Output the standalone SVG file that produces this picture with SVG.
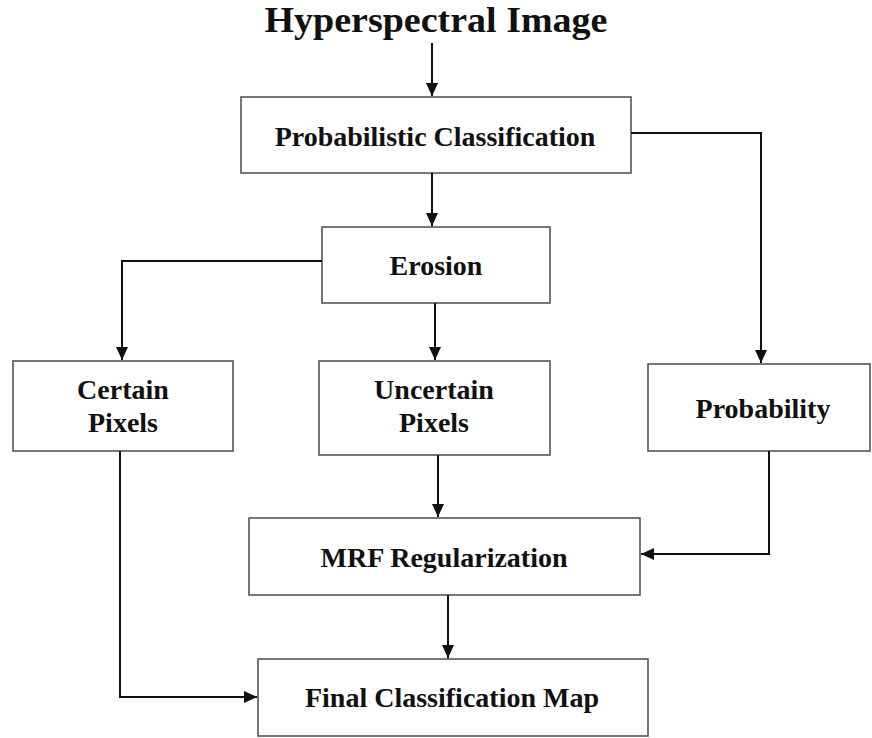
<svg xmlns="http://www.w3.org/2000/svg" width="872" height="738" viewBox="0 0 872 738">
<style>
.box{fill:#fff;stroke:#555;stroke-width:1.6}
.lbl{font-family:"Liberation Serif","Times New Roman",serif;font-weight:bold;font-size:28px;fill:#111;text-anchor:middle}
.title{font-family:"Liberation Serif","Times New Roman",serif;font-weight:bold;font-size:36px;fill:#111;text-anchor:middle}
.con{fill:none;stroke:#111;stroke-width:2}
</style>
<defs>
<marker id="ah" markerUnits="userSpaceOnUse" markerWidth="14" markerHeight="12" refX="13" refY="6" orient="auto">
<path d="M0,0 L13,6 L0,12 Z" fill="#111"/>
</marker>
</defs>
<rect width="872" height="738" fill="#fff"/>
<g id="title"><text class="title" x="436" y="32" textLength="343" lengthAdjust="spacingAndGlyphs">Hyperspectral Image</text></g>
<g id="n-prob-class"><rect class="box" x="241" y="97" width="390" height="76"/><text class="lbl" x="435" y="146">Probabilistic Classification</text></g>
<g id="n-erosion"><rect class="box" x="322" y="227" width="228" height="76"/><text class="lbl" x="436" y="275">Erosion</text></g>
<g id="n-certain"><rect class="box" x="13" y="361" width="220" height="90"/><text class="lbl" x="123" y="399">Certain</text><text class="lbl" x="123" y="432">Pixels</text></g>
<g id="n-uncertain"><rect class="box" x="319" y="361" width="231" height="94"/><text class="lbl" x="434" y="399">Uncertain</text><text class="lbl" x="434" y="432">Pixels</text></g>
<g id="n-probability"><rect class="box" x="648" y="364" width="222" height="87"/><text class="lbl" x="763" y="418">Probability</text></g>
<g id="n-mrf"><rect class="box" x="249" y="518" width="391" height="77"/><text class="lbl" x="444" y="567">MRF Regularization</text></g>
<g id="n-final"><rect class="box" x="258" y="659" width="390" height="77"/><text class="lbl" x="452" y="707">Final Classification Map</text></g>
<g id="connectors">
<path class="con" d="M432,43 V96" marker-end="url(#ah)"/>
<path class="con" d="M631,133 H761 V363" marker-end="url(#ah)"/>
<path class="con" d="M432,173 V226" marker-end="url(#ah)"/>
<path class="con" d="M322,261 H122 V360" marker-end="url(#ah)"/>
<path class="con" d="M435,303 V360" marker-end="url(#ah)"/>
<path class="con" d="M438,455 V517" marker-end="url(#ah)"/>
<path class="con" d="M769,451 V554 H641" marker-end="url(#ah)"/>
<path class="con" d="M448,595 V658" marker-end="url(#ah)"/>
<path class="con" d="M120,451 V697 H257" marker-end="url(#ah)"/>
</g>
</svg>
